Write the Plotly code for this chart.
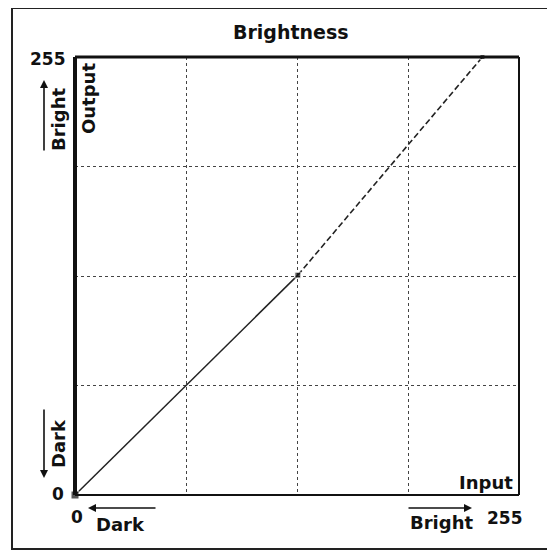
import plotly.graph_objects as go

# ---- data ----
curve_low_in = [0, 128]
curve_low_out = [0, 128]
curve_high_in = [128, 234]
curve_high_out = [128, 255]
curve_top_in = [234, 255]
curve_top_out = [255, 255]
ctrl_in = [0, 128, 234]
ctrl_out = [0, 128, 255]
grid_vals = [63.75, 127.5, 191.25]
axis_min, axis_max = 0, 255

O = 8  # page body margin offset
W, H = 555 - O, 553 - O
L, R, T, B = 75, 519, 57, 495  # plot area in reference pixels


def px(x):
    return (x - L) / (R - L)


def py(y):
    return (B - y) / (B - T)


FONT = dict(family="DejaVu Sans", size=18, color="#111", weight="bold")

fig = go.Figure()
fig.add_trace(go.Scatter(x=curve_low_in, y=curve_low_out, mode="lines",
                         line=dict(color="#222", width=1.5), cliponaxis=False,
                         showlegend=False, hoverinfo="skip"))
fig.add_trace(go.Scatter(x=curve_high_in, y=curve_high_out, mode="lines",
                         line=dict(color="#222", width=1.6, dash="6px,3px"),
                         cliponaxis=False, showlegend=False, hoverinfo="skip"))
fig.add_trace(go.Scatter(x=curve_top_in, y=curve_top_out, mode="lines",
                         line=dict(color="#222", width=1.5), cliponaxis=False,
                         showlegend=False, hoverinfo="skip"))
fig.add_trace(go.Scatter(x=ctrl_in, y=ctrl_out, mode="markers",
                         marker=dict(symbol="square", size=[8, 6, 5], color="#111"),
                         cliponaxis=False, showlegend=False, hoverinfo="skip"))

axis_common = dict(range=[axis_min, axis_max], tickvals=grid_vals, showticklabels=False,
                   ticks="", showgrid=True, gridcolor="#444", gridwidth=1,
                   griddash="dot", zeroline=False, showline=False, fixedrange=True)
fig.update_xaxes(**axis_common)
fig.update_yaxes(**axis_common)

shapes = [
    # outer frame
    dict(type="rect", xref="paper", yref="paper", x0=px(12), x1=px(548),
         y0=py(549), y1=py(8), line=dict(color="#222", width=2)),
    # plot borders
    dict(type="line", xref="paper", yref="paper", x0=0, x1=0, y0=0, y1=1,
         line=dict(color="#111", width=4)),
    dict(type="line", xref="paper", yref="paper", x0=0, x1=1, y0=1, y1=1,
         line=dict(color="#111", width=3)),
    dict(type="line", xref="paper", yref="paper", x0=1, x1=1, y0=0, y1=1,
         line=dict(color="#111", width=2)),
    dict(type="line", xref="paper", yref="paper", x0=0, x1=1, y0=0, y1=0,
         line=dict(color="#111", width=2)),
]

ann = []


def text(t, x, y, angle=0, xanchor="center", size=18):
    f = dict(FONT)
    f["size"] = size
    ann.append(dict(text=t, x=px(x), y=py(y), xref="paper", yref="paper",
                    showarrow=False, textangle=angle, xanchor=xanchor,
                    yanchor="middle", font=f))


def arrow(hx, hy, ax, ay):
    ann.append(dict(text="", x=px(hx), y=py(hy), xref="paper", yref="paper",
                    showarrow=True, ax=ax, ay=ay, arrowhead=2, arrowsize=1,
                    arrowwidth=1.6, arrowcolor="#111"))


text("Brightness", 291, 32, size=19)
text("255", 48, 59, size=17)
text("0", 58, 494, size=17)
text("0", 77, 517, size=17)
text("255", 505, 518, size=17)
text("Input", 515, 482, xanchor="right")
text("Output", 88, 99, angle=-90)
text("Bright", 58, 120, angle=-90)
text("Dark", 58, 444, angle=-90)
text("Dark", 120, 524)
text("Bright", 441, 522)

arrow(44, 80, 0, 72)
arrow(44, 478, 0, -70)
arrow(88, 508, 69, 0)
arrow(472, 508, -65, 0)

fig.update_layout(width=W, height=H,
                  margin=dict(l=L - O, r=555 - R, t=T - O, b=553 - B),
                  plot_bgcolor="white", paper_bgcolor="white",
                  shapes=shapes, annotations=ann, showlegend=False)

fig.write_html("out.html")
